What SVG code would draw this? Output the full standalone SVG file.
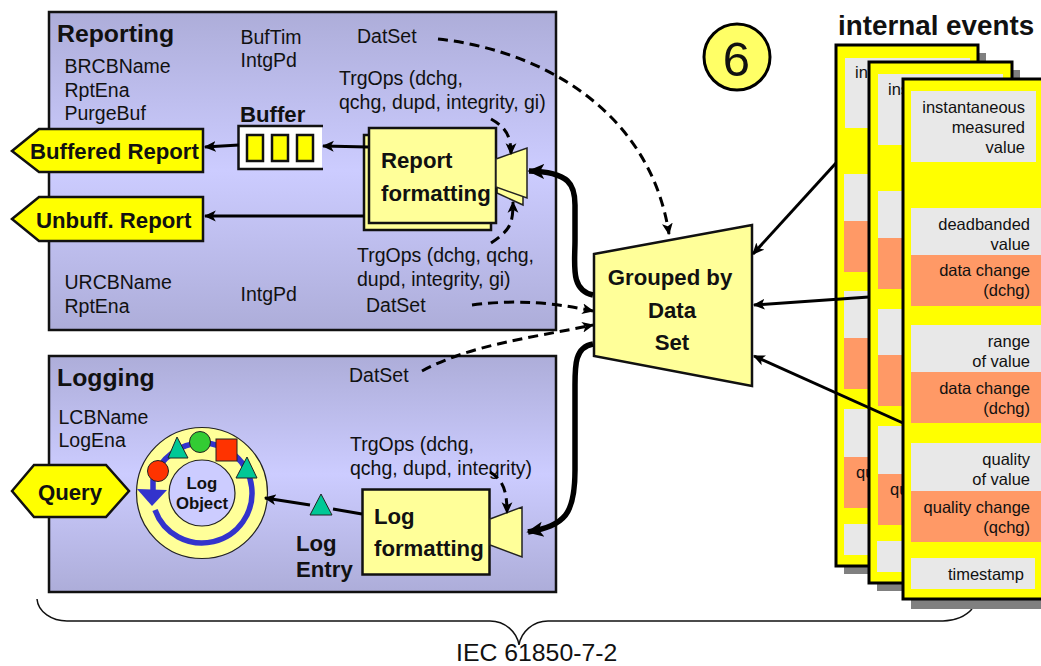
<svg xmlns="http://www.w3.org/2000/svg" width="1041" height="666" viewBox="0 0 1041 666">
<style>
text{font-family:"Liberation Sans",Arial,sans-serif;fill:#111}
.t{font-size:19.5px}
.c{font-size:16.5px;text-anchor:end}
.b{font-size:22.2px;font-weight:bold}
.m{text-anchor:middle}
.panel{fill:url(#pg);stroke:#111;stroke-width:2.5}
.y{fill:#ffff00;stroke:#111;stroke-width:2.5}
.ly{fill:#ffff99;stroke:#111;stroke-width:2.5}
.thin{fill:#ffff99;stroke:#222;stroke-width:1.5}
.card{fill:#ffff00;stroke:#000;stroke-width:3}
.sh{fill:#808080}.g{fill:#e8e8e8}.o{fill:#ff9966}
.a{fill:none;stroke:#000;stroke-width:3}
.at{fill:none;stroke:#000;stroke-width:3;marker-end:url(#ah)}
.ak{fill:none;stroke:#000;stroke-width:5.5;marker-end:url(#ak)}
.ad{fill:none;stroke:#000;stroke-width:3;stroke-dasharray:10 6;marker-end:url(#ah)}
.grn{fill:#00c896;stroke:#222;stroke-width:1}
</style>
<defs>
<linearGradient id="pg" x1="0" y1="0" x2="0" y2="1"><stop offset="0" stop-color="#adadd9"/><stop offset=".5" stop-color="#ccccff"/><stop offset="1" stop-color="#adadd9"/></linearGradient>
<marker id="ah" viewBox="0 0 10 10" refX="9" refY="5" markerUnits="userSpaceOnUse" markerWidth="12" markerHeight="12" orient="auto"><path d="M0,.5L10,5L0,9.5L2.5,5z"/></marker>
<marker id="ak" viewBox="0 0 10 10" refX="9" refY="5" markerUnits="userSpaceOnUse" markerWidth="17" markerHeight="17" orient="auto"><path d="M0,.5L10,5L0,9.5L2.5,5z"/></marker>
</defs>

<path id="brace" d="M37,599C38,612 52,621 67,621H490C505,621 517,632 519,645C521,632 533,621 548,621H943C955,621 966,616 972,609" fill="none" stroke="#111" stroke-width="1.5"/>
<text id="source" x="456" y="660.500" style="font-size:24.8px">IEC 61850-7-2</text>

<g id="reporting">
<rect class="panel" x="49" y="12" width="507" height="318"/>
<text x="57" y="42" style="font-size:24.8px;font-weight:bold">Reporting</text>
<text class="t" x="64.500" y="73">BRCBName</text>
<text class="t" x="64.500" y="97">RptEna</text>
<text class="t" x="64.500" y="120">PurgeBuf</text>
<text class="t" x="240.500" y="44">BufTim</text>
<text class="t" x="240.500" y="67">IntgPd</text>
<text class="t" x="357" y="43">DatSet</text>
<text class="t" x="339" y="85">TrgOps (dchg,</text>
<text class="t" x="339" y="109">qchg, dupd, integrity, gi)</text>
<text class="t" x="357" y="262">TrgOps (dchg, qchg,</text>
<text class="t" x="357" y="286">dupd, integrity, gi)</text>
<text class="t" x="64.500" y="289">URCBName</text>
<text class="t" x="64.500" y="313">RptEna</text>
<text class="t" x="240.500" y="301">IntgPd</text>
<text class="t" x="366" y="312">DatSet</text>
</g>

<g id="buffer">
<text class="b" x="240" y="122">Buffer</text>
<rect x="238" y="126" width="84" height="43" fill="#fff"/>
<path d="M323,126H238.500V169H323" fill="none" stroke="#111" stroke-width="2.5"/>
<rect class="y" x="247" y="135" width="16" height="26"/>
<rect class="y" x="272" y="135" width="16" height="26"/>
<rect class="y" x="297" y="135" width="16" height="26"/>
</g>

<g id="buffered-report">
<polygon class="y" points="12,151 39,129 203,129 203,172 39,172"/>
<text class="b" x="30" y="159">Buffered Report</text>
</g>
<g id="unbuffered-report">
<polygon class="y" points="12,219 39,197 203,197 203,241 39,241"/>
<text class="b" x="36" y="228">Unbuff. Report</text>
</g>

<g id="report-formatting">
<polygon class="thin" points="497,193 523,205 523,180 497,170"/>
<rect class="ly" x="364" y="135" width="127" height="95"/>
<rect class="ly" x="369" y="128" width="127" height="95"/>
<polygon class="thin" points="496,159 527,148 527,198 496,187"/>
<text class="b" x="381" y="168">Report</text>
<text class="b" x="381" y="201">formatting</text>
</g>

<g id="logging">
<rect class="panel" x="49" y="356" width="507" height="236"/>
<text x="57" y="386" style="font-size:24.8px;font-weight:bold">Logging</text>
<text class="t" x="58.500" y="424">LCBName</text>
<text class="t" x="58.500" y="447">LogEna</text>
<text class="t" x="349" y="382">DatSet</text>
<text class="t" x="350" y="451">TrgOps (dchg,</text>
<text class="t" x="350" y="475">qchg, dupd, integrity)</text>
<text class="b" x="296" y="551">Log</text>
<text class="b" x="296" y="577">Entry</text>
</g>

<g id="query">
<polygon class="y" points="12,491 34,465 106,465 129,491 106,517 34,517"/>
<text class="b m" x="70" y="500">Query</text>
</g>

<g id="log-object">
<circle cx="202" cy="493" r="65.500" fill="#ffff99" stroke="#222" stroke-width="1.2"/>
<circle cx="202" cy="493" r="33" fill="#ccccff" stroke="#222" stroke-width="1.2"/>
<path d="M155,510A50,50 0 1 0 202,443C180,443 160,458 153,480V492" fill="none" stroke="#3333cc" stroke-width="5.500"/>
<polygon points="137,489 167,490 152,506" fill="#3333cc"/>
<circle cx="158" cy="471" r="10.500" fill="#ff3300" stroke="#222"/>
<polygon class="grn" points="177,437 168,458 188,458"/>
<circle cx="200" cy="442" r="10.500" fill="#33cc33" stroke="#222"/>
<rect x="216" y="439" width="21" height="22" fill="#ff3300" stroke="#222"/>
<polygon class="grn" points="247,457 236,478 257,478"/>
<text class="m" x="202" y="489" style="font-size:16.800px;font-weight:bold">Log</text>
<text class="m" x="202" y="509" style="font-size:16.800px;font-weight:bold">Object</text>
</g>

<g id="log-formatting">
<rect class="ly" x="362.500" y="489.500" width="127" height="85"/>
<polygon class="thin" points="490,519 522,507 522,557 490,545"/>
<text class="b" x="374" y="524">Log</text>
<text class="b" x="374" y="556">formatting</text>
</g>

<g id="grouped">
<polygon class="ly" points="594,254 752,225 752,386 594,356"/>
<text class="b m" x="670" y="285">Grouped by</text>
<text class="b m" x="672" y="318">Data</text>
<text class="b m" x="672" y="350">Set</text>
</g>

<g id="step-6">
<circle cx="737" cy="57" r="33" fill="#ffff66" stroke="#000" stroke-width="3"/>
<text class="m" x="736.500" y="76" style="font-size:49px">6</text>
</g>

<text id="title-events" x="838" y="35" style="font-size:27.800px;font-weight:bold">internal events</text>

<g id="card-1">
<rect class="sh" x="844" y="53" width="142" height="521"/>
<rect class="card" x="836" y="45" width="142" height="521"/>
<rect class="g" x="845" y="58" width="125" height="70"/>
<rect class="g" x="844" y="174" width="130" height="47"/><rect class="o" x="844" y="221" width="130" height="51"/>
<rect class="g" x="844" y="291" width="130" height="47"/><rect class="o" x="844" y="338" width="130" height="51"/>
<rect class="g" x="844" y="409" width="130" height="48"/><rect class="o" x="844" y="457" width="130" height="51"/>
<rect class="g" x="844" y="524" width="125" height="31"/>
<text x="855" y="78" style="font-size:16.500px">ins</text>
<text x="856" y="478" style="font-size:16.500px">qu</text>
</g>
<g id="card-2">
<rect class="sh" x="877" y="70" width="143" height="521"/>
<rect class="card" x="869" y="62" width="143" height="521"/>
<rect class="g" x="878" y="74" width="125" height="71"/>
<rect class="g" x="878" y="191" width="130" height="47"/><rect class="o" x="878" y="238" width="130" height="51"/>
<rect class="g" x="878" y="309" width="130" height="46"/><rect class="o" x="878" y="355" width="130" height="51"/>
<rect class="g" x="878" y="426" width="130" height="48"/><rect class="o" x="878" y="474" width="130" height="51"/>
<rect class="g" x="877" y="541" width="125" height="31"/>
<text x="888" y="95" style="font-size:16.500px">ins</text>
<text x="890" y="495" style="font-size:16.500px">qu</text>
</g>
<g id="card-3">
<rect class="sh" x="911" y="87" width="140" height="522"/>
<rect class="card" x="903" y="79" width="150" height="520"/>
<rect class="g" x="911" y="91" width="125" height="71"/>
<rect class="g" x="911" y="208" width="135" height="47"/><rect class="o" x="911" y="255" width="135" height="51"/>
<rect class="g" x="911" y="325" width="135" height="47"/><rect class="o" x="911" y="372" width="135" height="51"/>
<rect class="g" x="911" y="443" width="135" height="48"/><rect class="o" x="911" y="491" width="135" height="51"/>
<rect class="g" x="911" y="558" width="124" height="31"/>
<text class="c" x="1025" y="113">instantaneous</text>
<text class="c" x="1025" y="133">measured</text>
<text class="c" x="1025" y="153">value</text>
<text class="c" x="1030" y="230">deadbanded</text>
<text class="c" x="1030" y="250">value</text>
<text class="c" x="1030" y="276">data change</text>
<text class="c" x="1030" y="296">(dchg)</text>
<text class="c" x="1030" y="347">range</text>
<text class="c" x="1030" y="367">of value</text>
<text class="c" x="1030" y="394">data change</text>
<text class="c" x="1030" y="414">(dchg)</text>
<text class="c" x="1030" y="465">quality</text>
<text class="c" x="1030" y="485">of value</text>
<text class="c" x="1030" y="513">quality change</text>
<text class="c" x="1030" y="533">(qchg)</text>
<text class="c" x="1024" y="580">timestamp</text>
</g>

<g id="connectors">
<path class="at" d="M368,147L323,146"/>
<path class="at" d="M239,145L205,147"/>
<path class="at" d="M364,216H205"/>
<path class="a" d="M362,514L333,509"/>
<path class="at" d="M310,505L265,498"/>
<path class="ak" d="M593,295C570,290 575,265 575,240V205C575,185 570,172 529,171"/>
<path class="ak" d="M593,344C575,347 575,365 575,385V470C575,515 565,525 528,532"/>
<path class="at" d="M836,163L753,254"/>
<path class="at" d="M869,297L754,305"/>
<path class="at" d="M903,423L754,356"/>
<path class="ad" d="M438,39C540,50 650,110 669,234"/>
<path class="ad" d="M472,305C520,299 555,303 593,311"/>
<path class="ad" d="M422,371C470,345 530,338 593,325"/>
<path class="ad" d="M491,119C505,127 511,135 511,154"/>
<path class="ad" d="M491,243C510,230 513,225 513,202"/>
<path class="ad" d="M490,472C503,480 507,490 507,513"/>
</g>
<polygon id="log-entry" class="grn" points="321,494 310,515 332,515"/>
</svg>
